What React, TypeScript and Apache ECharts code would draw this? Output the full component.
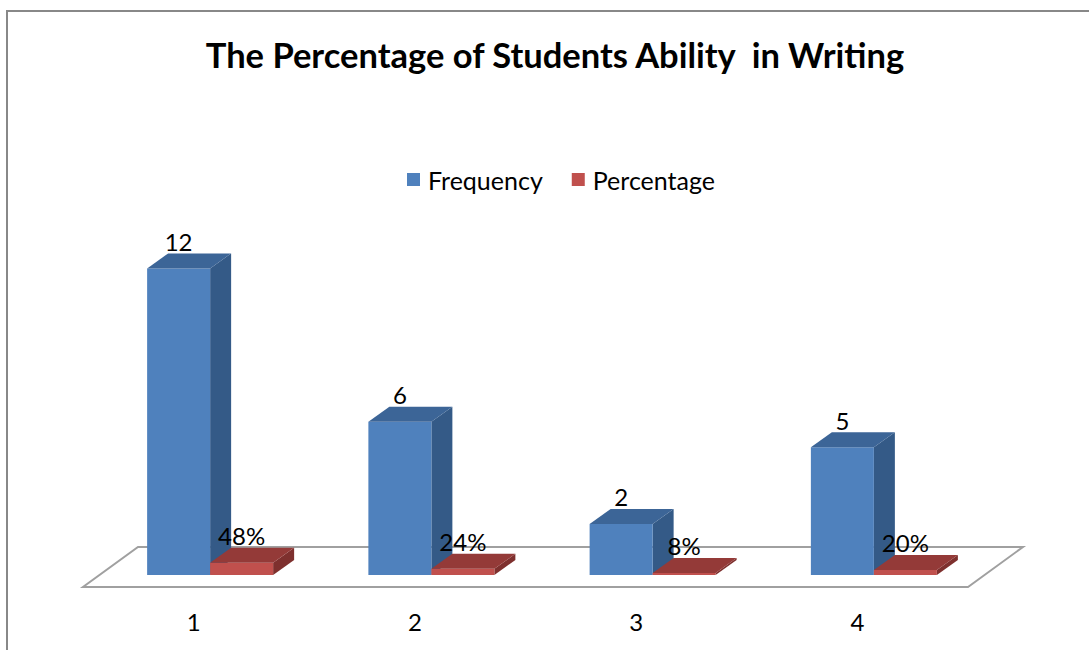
import React, { useEffect, useRef } from "react";
import * as echarts from "echarts";

const categories = ["1", "2", "3", "4"];
const frequency = [12, 6, 2, 5];
const percentage = [0.48, 0.24, 0.08, 0.2];
const seriesNames = ["Frequency", "Percentage"];

// 3D projection constants (pixels)
const FLOOR_DX = 55;
const FLOOR_DY = -40;
const BAR_FRONT_DX = 16.5;
const BAR_FRONT_DY = -12;
const BAR_DX = 21;
const BAR_DY = -15;
const BAR_W = 63;

const FONT = "Lato";

type Palette = { front: string; top: string; side: string };
const bluePal: Palette = { front: "#4F81BD", top: "#3C6597", side: "#345A87" };
const redPal: Palette = { front: "#C0504D", top: "#943A38", side: "#7E302E" };

function makeBarRenderer(sideIdx: number, pal: Palette, fmt: (v: number) => string) {
  return (params: any, api: any) => {
    const cat = api.value(0);
    const v = api.value(1);
    const base = api.coord([cat, 0]);
    const h = api.size([0, v])[1];
    const x0 = base[0] + BAR_FRONT_DX + sideIdx * BAR_W;
    const x1 = x0 + BAR_W;
    const yb = base[1] + BAR_FRONT_DY;
    const yt = yb - h;
    return {
      type: "group",
      children: [
        {
          type: "polygon",
          shape: { points: [[x1, yt], [x1 + BAR_DX, yt + BAR_DY], [x1 + BAR_DX, yb + BAR_DY], [x1, yb]] },
          style: { fill: pal.side },
        },
        {
          type: "rect",
          shape: { x: x0, y: yt, width: BAR_W, height: h },
          style: { fill: pal.front },
        },
        {
          type: "polygon",
          shape: { points: [[x0, yt], [x1, yt], [x1 + BAR_DX, yt + BAR_DY], [x0 + BAR_DX, yt + BAR_DY]] },
          style: { fill: pal.top },
        },
        {
          type: "text",
          z2: 100,
          style: {
            text: fmt(v),
            x: (x0 + x1) / 2,
            y: yt + BAR_DY,
            fill: "#000",
            fontSize: 24,
            fontFamily: FONT,
            align: "center",
            verticalAlign: "bottom",
          },
        },
      ],
    };
  };
}

const floorRenderer = (params: any, api: any) => {
  const cs = params.coordSys;
  const yB = cs.y + cs.height;
  const xL = cs.x;
  const xR = cs.x + cs.width;
  return {
    type: "polygon",
    shape: {
      points: [
        [xL, yB],
        [xR, yB],
        [xR + FLOOR_DX, yB + FLOOR_DY],
        [xL + FLOOR_DX, yB + FLOOR_DY],
      ],
    },
    style: { fill: "#FFFFFF", stroke: "#A0A0A0", lineWidth: 2 },
  };
};

export default function App() {
  const ref = useRef<HTMLDivElement>(null);
  useEffect(() => {
    document.body.style.margin = "0";
    const chart = echarts.init(ref.current!, null, { renderer: "svg" });
    chart.setOption({
      animation: false,
      backgroundColor: "#FFFFFF",
      title: {
        text: "The Percentage of Students Ability  in Writing",
        left: 555,
        top: 37,
        padding: 0,
        textAlign: "center",
        textStyle: { fontFamily: FONT, fontWeight: "bold", fontSize: 34.5, color: "#000" },
      },
      legend: {
        data: seriesNames,
        left: 407,
        top: 167,
        padding: 0,
        icon: "rect",
        itemWidth: 13,
        itemHeight: 13,
        itemGap: 29,
        textStyle: { fontFamily: FONT, fontSize: 25, color: "#000", padding: [0, 0, 0, 3] },
      },
      graphic: [
        {
          type: "rect",
          shape: { x: 7, y: 11, width: 1300, height: 900 },
          style: { fill: "none", stroke: "#888888", lineWidth: 2 },
          silent: true,
        },
      ],
      grid: { left: 83, right: 1089 - 968, top: 587 - 14 * 25.55, bottom: 650 - 587 },
      xAxis: {
        type: "category",
        data: categories,
        boundaryGap: true,
        axisLine: { show: false },
        axisTick: { show: false },
        splitLine: { show: false },
        axisLabel: { fontFamily: FONT, fontSize: 24, color: "#000", margin: 22 },
      },
      yAxis: {
        type: "value",
        min: 0,
        max: 14,
        show: false,
        splitLine: { show: false },
      },
      series: [
        {
          type: "custom",
          name: "floor",
          renderItem: floorRenderer,
          data: [[0, 0]],
          z: 1,
          silent: true,
        },
        {
          type: "custom",
          name: seriesNames[0],
          itemStyle: { color: bluePal.front },
          renderItem: makeBarRenderer(-1, bluePal, (v) => String(v)),
          data: frequency.map((v, i) => [i, v]),
          z: 2,
        },
        {
          type: "custom",
          name: seriesNames[1],
          itemStyle: { color: redPal.front },
          renderItem: makeBarRenderer(0, redPal, (v) => Math.round(v * 100) + "%"),
          data: percentage.map((v, i) => [i, v]),
          z: 3,
        },
      ],
    });
    return () => chart.dispose();
  }, []);
  return <div ref={ref} style={{ width: 1089, height: 650 }} />;
}
